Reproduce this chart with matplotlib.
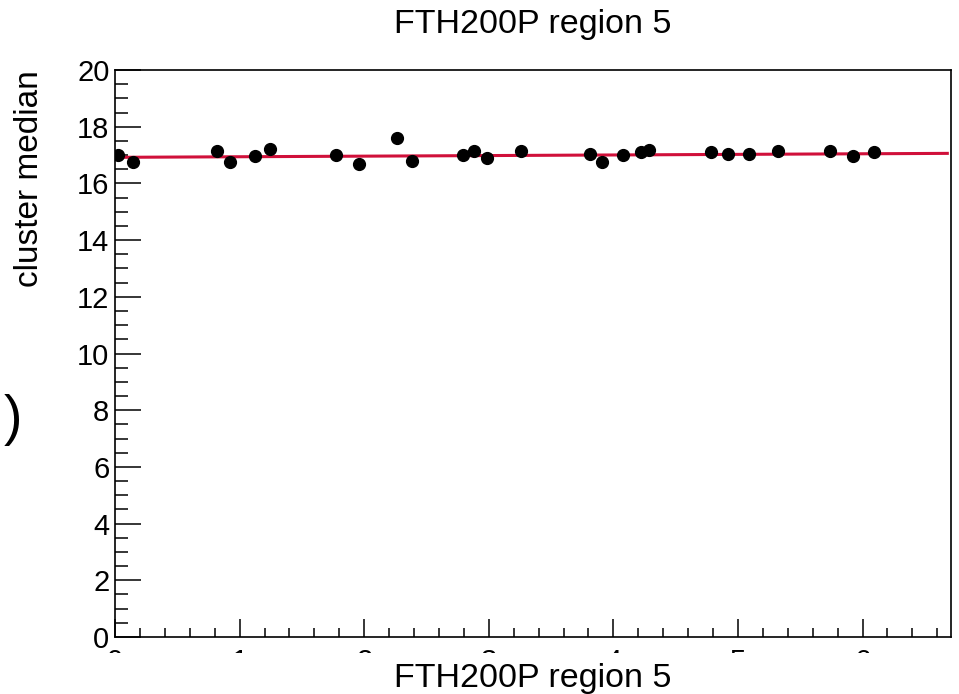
import numpy as np
import matplotlib
matplotlib.use('Agg')
import matplotlib.pyplot as plt
from matplotlib.patches import Rectangle
from matplotlib.ticker import MultipleLocator

plt.rcParams['font.family'] = ['Liberation Sans', 'DejaVu Sans']

# points
run_x = [0.024, 0.144, 0.819, 0.923, 1.124, 1.244, 1.774, 1.958, 2.263, 2.384,
         2.793, 2.881, 2.986, 3.258, 3.812, 3.909, 4.077, 4.220, 4.286, 4.783,
         4.920, 5.088, 5.321, 5.738, 5.923, 6.091]
median = [17.01, 16.75, 17.14, 16.75, 16.97, 17.21, 17.01, 16.69, 17.60, 16.79,
          17.01, 17.14, 16.90, 17.14, 17.04, 16.75, 17.01, 17.11, 17.18, 17.11,
          17.04, 17.04, 17.14, 17.14, 16.97, 17.11]
# fitted line, end points
fit_x = [0.0, 6.68]
fit_y = [16.92, 17.06]

title = 'FTH200P region 5'
xlabel = 'FTH200P region 5'
ylabel = 'cluster median'

fig = plt.figure(figsize=(9.59, 6.94), dpi=100)
ax = fig.add_axes([0.1199, 0.0821, 0.9917 - 0.1199, 0.8991 - 0.0821])

ax.plot(fit_x, fit_y, color='#d0103a', lw=2.2, zorder=2)
ax.plot(run_x, median, 'o', color='black', ms=8.5, zorder=3)

ax.set_xlim(0, 6.71)
ax.set_ylim(0, 20)
ax.xaxis.set_major_locator(MultipleLocator(1))
ax.xaxis.set_minor_locator(MultipleLocator(0.2))
ax.yaxis.set_major_locator(MultipleLocator(2))
ax.yaxis.set_minor_locator(MultipleLocator(0.5))
ax.tick_params(which='both', direction='in', top=False, right=False, labelsize=21)
ax.tick_params(axis='y', which='major', length=19, width=1.1, pad=4)
ax.tick_params(axis='y', which='minor', length=9.5, width=1.1)
ax.tick_params(axis='x', which='major', length=13, width=1.1, pad=8)
ax.tick_params(axis='x', which='minor', length=6.5, width=1.1)
for s in ax.spines.values():
    s.set_linewidth(1.2)

# the x title box hides most of the x tick labels, as in the picture
fig.patches.append(Rectangle((0, 0), 1, 1 - 653 / 694, transform=fig.transFigure,
                             facecolor='white', edgecolor='none', zorder=5))
fig.text(0.556, 1 - 687 / 694, xlabel, ha='center', va='baseline', fontsize=24.5, zorder=6)
fig.text(0.556, 1 - 33 / 694, title, ha='center', va='baseline', fontsize=24.5)
fig.text(30 / 959, 1 - 70 / 694, ylabel, rotation=90, ha='center', va='top', fontsize=24)
fig.text(22 / 959, 1 - 420 / 694, ')', ha='right', va='center', fontsize=40)

fig.savefig('out.png', dpi=100)
